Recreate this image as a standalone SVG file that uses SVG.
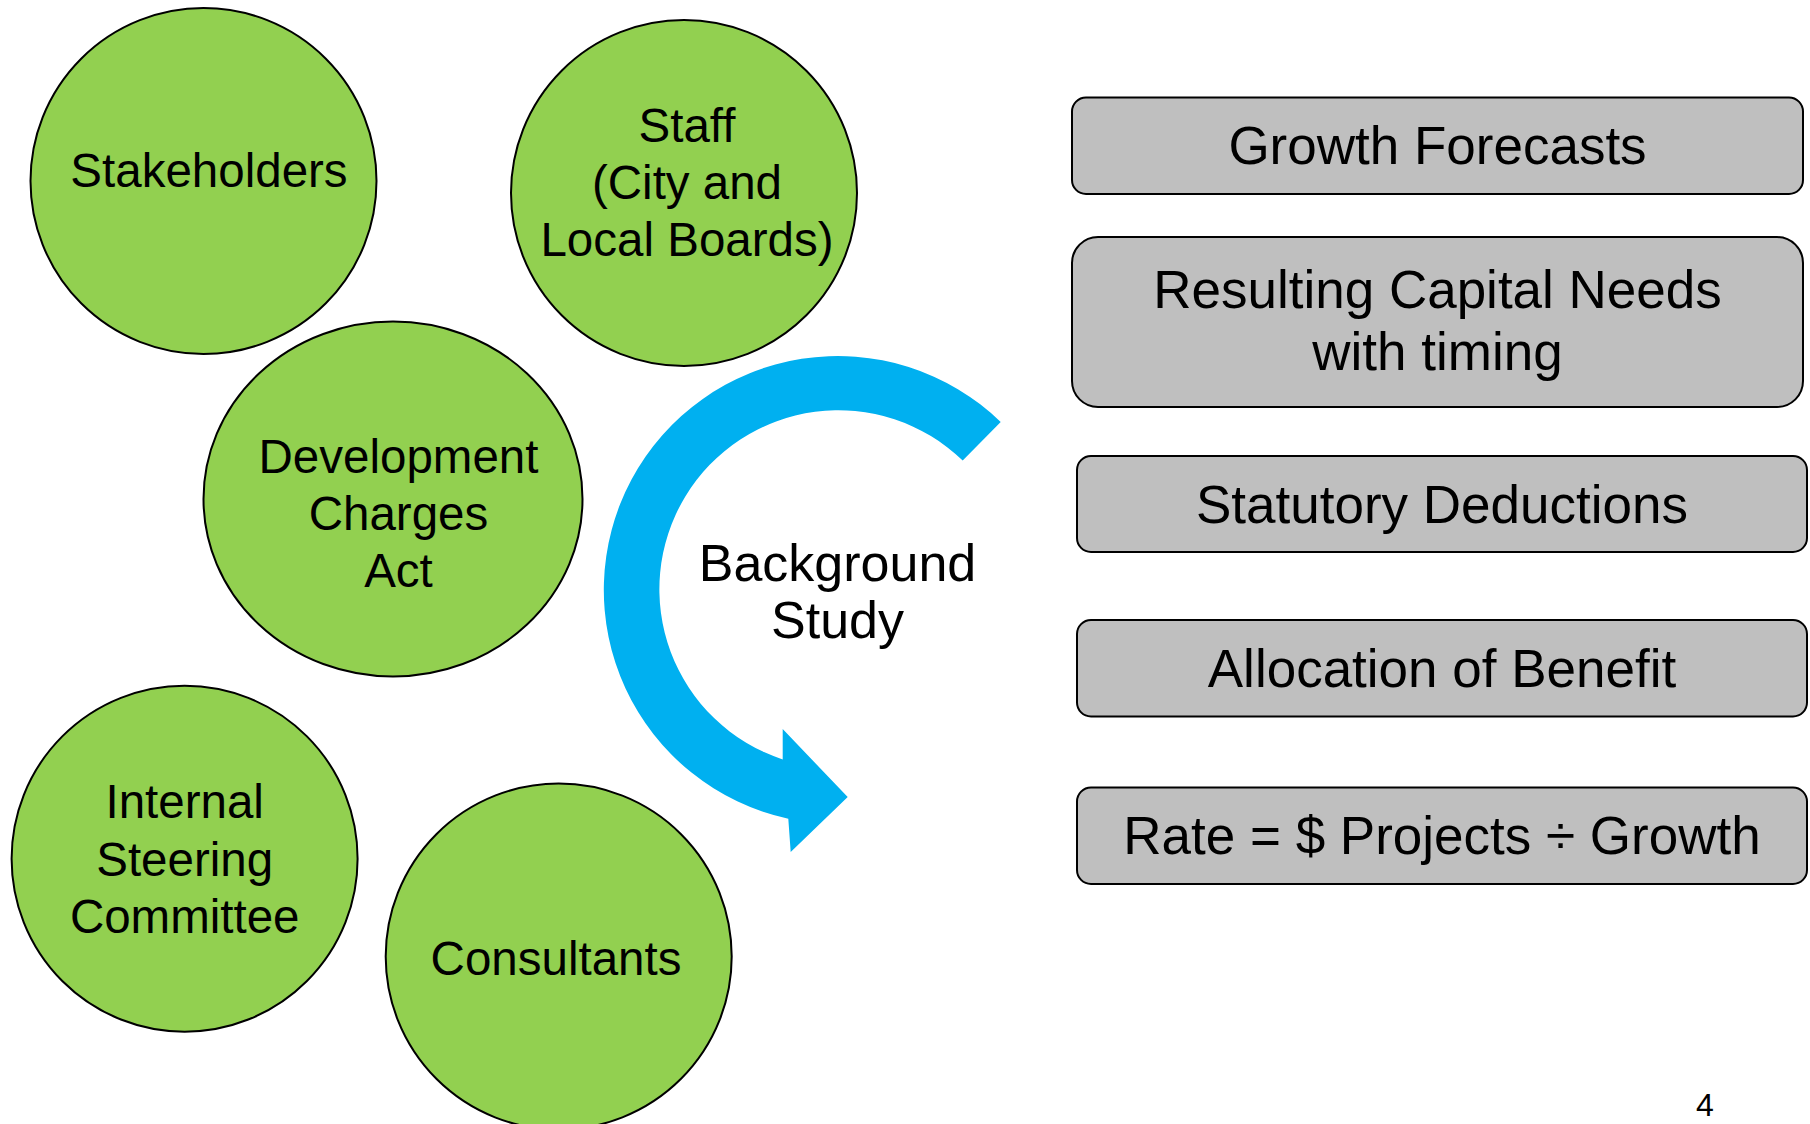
<svg xmlns="http://www.w3.org/2000/svg" width="1810" height="1124" viewBox="0 0 1810 1124">
  <style>
    .bubble { fill: #92D050; stroke: #000; stroke-width: 2; }
    .step { fill: #BFBFBF; stroke: #000; stroke-width: 2; }
    text { font-family: "Liberation Sans", Arial, sans-serif; fill: #000; text-anchor: middle; }
    .bt { font-size: 47.5px; }
    .st { font-size: 53px; }
    .ct { font-size: 52px; }
  </style>
  <rect width="1810" height="1124" fill="#fff"/>

  <!-- input bubbles -->
  <g id="stakeholders">
    <circle class="bubble" cx="203.5" cy="181" r="173"/>
    <text class="bt" x="209" y="187">Stakeholders</text>
  </g>
  <g id="staff">
    <circle class="bubble" cx="684" cy="193" r="173"/>
    <text class="bt" x="687" y="142">Staff</text>
    <text class="bt" x="687" y="199">(City and</text>
    <text class="bt" x="687" y="256">Local Boards)</text>
  </g>
  <g id="dc-act">
    <ellipse class="bubble" cx="393" cy="499" rx="189.5" ry="177.5"/>
    <text class="bt" x="398.5" y="473">Development</text>
    <text class="bt" x="398.5" y="530">Charges</text>
    <text class="bt" x="398.5" y="587">Act</text>
  </g>
  <g id="steering">
    <circle class="bubble" cx="184.6" cy="858.7" r="173"/>
    <text class="bt" x="184.7" y="818">Internal</text>
    <text class="bt" x="184.7" y="876">Steering</text>
    <text class="bt" x="184.7" y="933">Committee</text>
  </g>
  <g id="consultants">
    <circle class="bubble" cx="558.7" cy="956.5" r="173"/>
    <text class="bt" x="556" y="975">Consultants</text>
  </g>

  <!-- curved process arrow -->
  <g id="connectors">
    <path fill="#00B0F0" d="M 1000.7 422 A 234 234 0 1 0 788.3 818.7 L 790.7 852 L 847.7 797 L 782.7 729.1 L 782.7 759.4 A 179 179 0 1 1 962.7 460.5 Z"/>
  </g>
  <g id="background-study">
    <text class="ct" x="837.5" y="581">Background</text>
    <text class="ct" x="837.5" y="637.5">Study</text>
  </g>

  <!-- study steps -->
  <g id="growth-forecasts">
    <rect class="step" x="1072" y="97.5" width="731" height="96.5" rx="14"/>
    <text class="st" x="1437.5" y="163.5">Growth Forecasts</text>
  </g>
  <g id="capital-needs">
    <rect class="step" x="1072" y="237" width="731" height="170" rx="26"/>
    <text class="st" x="1437.5" y="308">Resulting Capital Needs</text>
    <text class="st" x="1437.5" y="369.5">with timing</text>
  </g>
  <g id="statutory-deductions">
    <rect class="step" x="1077" y="456" width="730" height="96" rx="14"/>
    <text class="st" x="1442" y="522.5">Statutory Deductions</text>
  </g>
  <g id="allocation">
    <rect class="step" x="1077" y="620" width="730" height="96.5" rx="14"/>
    <text class="st" x="1442" y="687">Allocation of Benefit</text>
  </g>
  <g id="rate">
    <rect class="step" x="1077" y="787.5" width="730" height="96.5" rx="14"/>
    <text class="st" x="1442" y="853.5">Rate = $ Projects ÷ Growth</text>
  </g>

  <text x="1705" y="1115.5" style="font-size:32px">4</text>
</svg>
